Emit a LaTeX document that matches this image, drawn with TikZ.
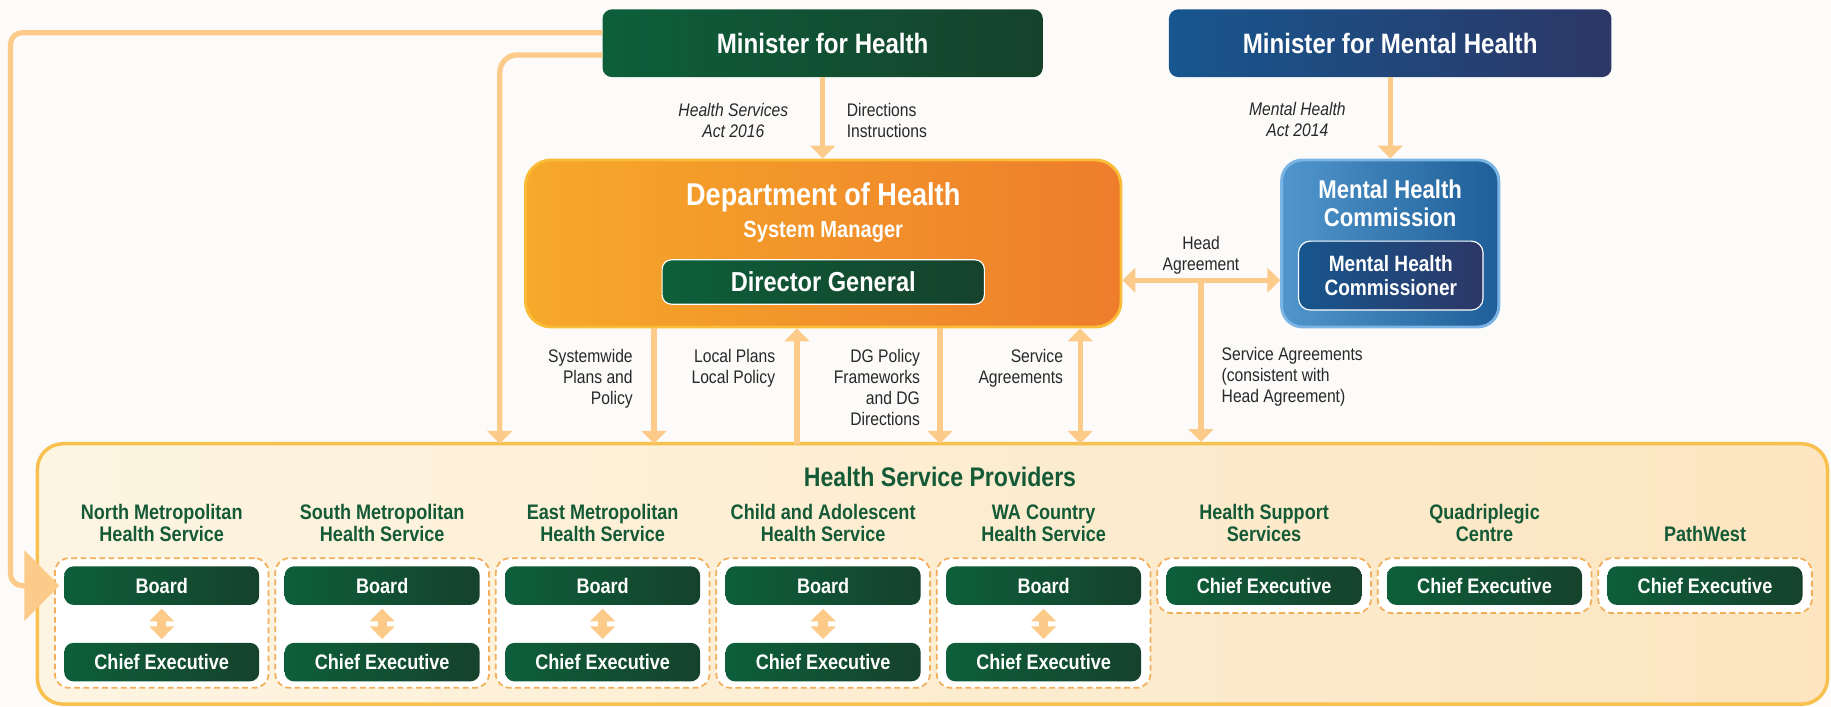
\documentclass[tikz,border=0pt]{standalone}
\usepackage{fontspec}
\setmainfont{Liberation Sans}[FakeStretch=0.86]
\usepackage{xcolor}
\usetikzlibrary{arrows.meta, positioning}

\definecolor{mhgreen}{RGB}{13,95,58}
\definecolor{mhgreendark}{RGB}{22,66,43}
\definecolor{mhblue}{RGB}{23,86,142}
\definecolor{mhbluedark}{RGB}{44,55,102}
\definecolor{dohorange}{RGB}{246,169,42}
\definecolor{dohorangedark}{RGB}{238,125,43}
\definecolor{dohborder}{RGB}{249,187,56}
\definecolor{mhclight}{RGB}{80,150,204}
\definecolor{mhcdark}{RGB}{31,94,152}
\definecolor{mhcborder}{RGB}{121,180,228}
\definecolor{arrowpeach}{RGB}{252,203,138}
\definecolor{hspfill}{RGB}{253,245,226}
\definecolor{hspfilldark}{RGB}{252,229,192}
\definecolor{hspborder}{RGB}{248,192,79}
\definecolor{dashorange}{RGB}{242,174,90}
\definecolor{headgreen}{RGB}{20,90,54}
\definecolor{labelgray}{RGB}{40,40,40}
\definecolor{paper}{RGB}{252,251,249}

\begin{document}
\begin{tikzpicture}[x=1pt, y=-1pt,
    box/.style={rounded corners=8pt, inner sep=0pt, text=white, align=center},
    greenbox/.style={box, left color=mhgreen, right color=mhgreendark},
    bluebox/.style={box, left color=mhblue, right color=mhbluedark},
    unitbox/.style={greenbox, minimum width=167pt, minimum height=33pt, font=\fontsize{18}{20}\selectfont\bfseries},
    dashbox/.style={draw=dashorange, line width=1.5pt, dash pattern=on 5pt off 3pt, fill=white, rounded corners=12pt},
    conn/.style={draw=arrowpeach, line width=4.5pt, -{Triangle[width=21pt,length=11pt]}},
    twoway/.style={draw=arrowpeach, line width=4.5pt, {Triangle[width=21pt,length=11pt]}-{Triangle[width=21pt,length=11pt]}},
    lbl/.style={inner sep=0pt, text=labelgray, font=\fontsize{15.6}{18}\selectfont},
    itlbl/.style={lbl, font=\fontsize{15.6}{18}\selectfont\itshape},
    head/.style={inner sep=0pt, text=headgreen, align=center, font=\fontsize{18}{19}\selectfont\bfseries}]
    \useasboundingbox (0,0) rectangle (1568,605.4);
    \fill[paper] (0,0) rectangle (1568,605.4);

    \node[draw=hspborder, line width=3pt, rounded corners=22pt, left color=hspfill, right color=hspfilldark, minimum width=1533pt, minimum height=223pt] (hsp) at (798.5,491.5) {};
    \node[inner sep=0pt, text=headgreen, anchor=base, font=\fontsize{23}{26}\selectfont\bfseries] (hsptitle) at (805,417) {Health Service Providers};

    \foreach \colname [count=\col] in {{North Metropolitan\\Health Service}, {South Metropolitan\\Health Service}, {East Metropolitan\\Health Service}, {Child and Adolescent\\Health Service}, {WA Country\\Health Service}}{
        \pgfmathsetmacro{\cx}{138.5+188.8*(\col-1)}
        \node[head, anchor=south] (hd\col) at (\cx,464) {\colname};
        \node[dashbox, minimum width=183pt, minimum height=111pt] (grp\col) at (\cx,533.5) {};
        \node[unitbox] (board\col) at (\cx,501.5) {Board};
        \node[unitbox] (ce\col) at (\cx,567) {Chief Executive};
        \draw[twoway, line width=8pt, shorten <=3pt, shorten >=3pt] (board\col.south) -- (ce\col.north);
    }
    \foreach \colname [count=\col from 6] in {{Health Support\\Services}, {Quadriplegic\\Centre}, {PathWest}}{
        \pgfmathsetmacro{\cx}{138.5+188.8*(\col-1)}
        \node[head, anchor=south] (hd\col) at (\cx,464) {\colname};
        \node[dashbox, minimum width=183pt, minimum height=47pt] (grp\col) at (\cx,501.5) {};
        \node[unitbox] (ce\col) at (\cx,501.5) {Chief Executive};
    }

    \node[greenbox, minimum width=377pt, minimum height=58pt, font=\fontsize{24}{28}\selectfont\bfseries] (mh) at (704.5,37) {Minister for Health};
    \node[bluebox, minimum width=379pt, minimum height=58pt, font=\fontsize{24}{28}\selectfont\bfseries] (mmh) at (1190.5,37) {Minister for Mental Health};

    \node[draw=dohborder, line width=2.5pt, rounded corners=22pt, left color=dohorange, right color=dohorangedark, minimum width=510pt, minimum height=143pt] (doh) at (705,208.5) {};
    \node[inner sep=0pt, text=white, anchor=base, font=\fontsize{27}{30}\selectfont\bfseries] (dohtitle) at (705,176) {Department of Health};
    \node[inner sep=0pt, text=white, anchor=base, font=\fontsize{20}{22}\selectfont\bfseries] (dohsub) at (705,203) {System Manager};
    \node[greenbox, draw=white, line width=1pt, minimum width=276pt, minimum height=38pt, font=\fontsize{23.5}{26}\selectfont\bfseries] (dg) at (705,241.5) {Director General};

    \node[draw=mhcborder, line width=2.5pt, rounded corners=18pt, left color=mhclight, right color=mhcdark, minimum width=186pt, minimum height=143pt] (mhc) at (1190.5,208.5) {};
    \node[inner sep=0pt, text=white, align=center, anchor=north, font=\fontsize{22}{23.5}\selectfont\bfseries] (mhctitle) at (1190.5,154) {Mental Health\\Commission};
    \node[bluebox, draw=white, line width=1pt, rounded corners=10pt, minimum width=158pt, minimum height=59pt, font=\fontsize{19}{20.5}\selectfont\bfseries] (mhcr) at (1191,236) {Mental Health\\Commissioner};

    \coordinate (mhloop) at (428,380);
    \coordinate (leftrail) at (9,300);
    \coordinate (sysplans) at (560,380);
    \coordinate (localplans) at (682.5,380);
    \coordinate (dgpolicy) at (805,380);
    \coordinate (svcagr) at (925,380);
    \coordinate (hdag) at (1028.5,240);

    \draw[draw=arrowpeach, line width=4.5pt, rounded corners=10pt, shorten >=4pt, -{Triangle[width=60pt,length=30pt]}] ([yshift=9pt]mh.west) -| (leftrail) |- (board1.west);
    \draw[conn, rounded corners=15pt] ([yshift=-10pt]mh.west) -| (mhloop);
    \draw[conn] (mh.south) -- (mh.south |- doh.north);
    \draw[conn] (mmh.south) -- (mmh.south |- mhc.north);
    \draw[twoway] (hdag -| doh.east) -- (hdag -| mhc.west);
    \draw[conn] (hdag) -- (hdag |- hsp.north);
    \draw[conn] (doh.south -| sysplans) -- (sysplans);
    \draw[conn] (localplans) -- (doh.south -| localplans);
    \draw[conn] (doh.south -| dgpolicy) -- (dgpolicy);
    \draw[twoway] (doh.south -| svcagr) -- (svcagr);

    \node[itlbl, align=center, anchor=north] (hsact) at (628,88) {Health Services\\Act 2016};
    \node[lbl, align=left, anchor=north west] (directions) at (725,88) {Directions\\Instructions};
    \node[itlbl, align=center, anchor=north] (mhact) at (1111,87) {Mental Health\\Act 2014};
    \node[lbl, align=center, anchor=north] (headlbl) at (1028.5,202) {Head\\Agreement};
    \node[lbl, align=left, anchor=north west] (svclbl) at (1046,297) {Service Agreements\\(consistent with\\Head Agreement)};
    \node[lbl, align=right, anchor=north east] (syslbl) at (542,298.5) {Systemwide\\Plans and\\Policy};
    \node[lbl, align=right, anchor=north east] (locallbl) at (664,298.5) {Local Plans\\Local Policy};
    \node[lbl, align=right, anchor=north east] (dglbl) at (788,298.5) {DG Policy\\Frameworks\\and DG\\Directions};
    \node[lbl, align=right, anchor=north east] (svc2lbl) at (910.5,298.5) {Service\\Agreements};
\end{tikzpicture}
\end{document}
